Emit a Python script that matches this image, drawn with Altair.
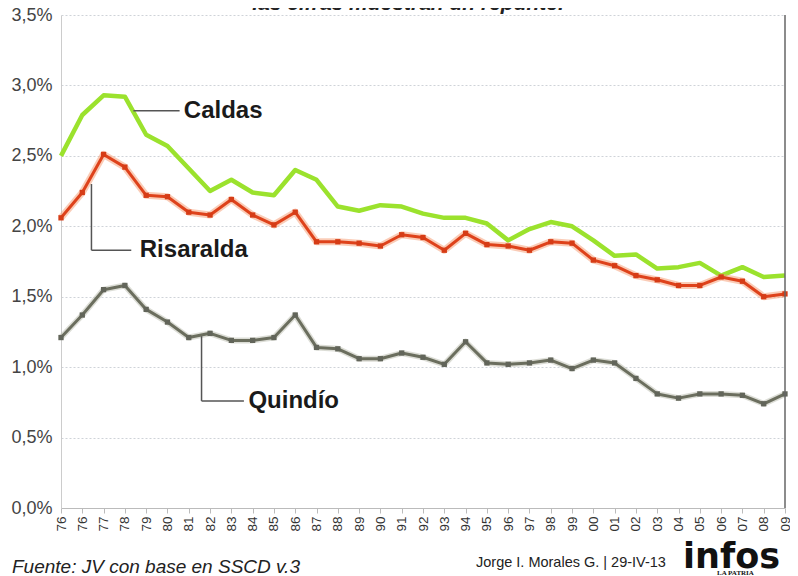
import altair as alt
import pandas as pd

# ---- data ----
years = ['76', '76', '77', '78', '79', '80', '81', '82', '83', '84', '85', '86',
         '87', '88', '89', '90', '91', '92', '93', '94', '95', '96', '97', '98',
         '99', '00', '01', '02', '03', '04', '05', '06', '07', '08', '09']

caldas = [2.50, 2.79, 2.93, 2.92, 2.65, 2.57, 2.41, 2.25, 2.33, 2.24, 2.22, 2.40,
          2.33, 2.14, 2.11, 2.15, 2.14, 2.09, 2.06, 2.06, 2.02, 1.90, 1.98, 2.03,
          2.00, 1.90, 1.79, 1.80, 1.70, 1.71, 1.74, 1.65, 1.71, 1.64, 1.65]

risaralda = [2.06, 2.24, 2.51, 2.42, 2.22, 2.21, 2.10, 2.08, 2.19, 2.08, 2.01, 2.10,
             1.89, 1.89, 1.88, 1.86, 1.94, 1.92, 1.83, 1.95, 1.87, 1.86, 1.83, 1.89,
             1.88, 1.76, 1.72, 1.65, 1.62, 1.58, 1.58, 1.64, 1.61, 1.50, 1.52]

quindio = [1.21, 1.37, 1.55, 1.58, 1.41, 1.32, 1.21, 1.24, 1.19, 1.19, 1.21, 1.37,
           1.14, 1.13, 1.06, 1.06, 1.10, 1.07, 1.02, 1.18, 1.03, 1.02, 1.03, 1.05,
           0.99, 1.05, 1.03, 0.92, 0.81, 0.78, 0.81, 0.81, 0.80, 0.74, 0.81]

y_ticks = [0, 0.5, 1.0, 1.5, 2.0, 2.5, 3.0, 3.5]

# series labels and where they sit (x in year index, y in percent)
label_names = ['Caldas', 'Risaralda', 'Quindío']
label_x = [5.77, 3.70, 8.80]
label_y = [2.82, 1.83, 0.76]

# connector segments for the labels
seg_x = [3.40, 1.43, 1.43, 6.60, 6.60]
seg_x2 = [5.57, 1.43, 3.30, 6.60, 8.59]
seg_y = [2.82, 2.30, 1.83, 1.22, 0.76]
seg_y2 = [2.82, 1.83, 1.83, 0.76, 0.76]

title_text = 'las cifras muestran un repunte.'
source_text = 'Fuente: JV con base en SSCD v.3'
credit_text = 'Jorge I. Morales G. | 29-IV-13'
logo_text = 'infos'
logo_sub = 'LA PATRIA'

# ---- tables ----
idx = list(range(len(years)))
df_c = pd.DataFrame({'i': idx, 'v': caldas})
df_r = pd.DataFrame({'i': idx, 'v': risaralda})
df_q = pd.DataFrame({'i': idx, 'v': quindio})
df_lab = pd.DataFrame({'i': label_x, 'v': label_y, 't': label_names})
df_seg = pd.DataFrame({'i': seg_x, 'i2': seg_x2, 'v': seg_y, 'v2': seg_y2})

W, H = 724, 493
label_expr = "[" + ",".join("'%s'" % y for y in years) + "][datum.value]"

xs = alt.Scale(domain=[0, len(years) - 1], nice=False, zero=False)
ys = alt.Scale(domain=[0, 3.5], nice=False)

x_axis = alt.Axis(values=idx, labelExpr=label_expr, labelAngle=270,
                  labelFontSize=13.5, labelColor='#333', labelPadding=3,
                  labelOverlap=False, labelFlush=False, labelBound=False,
                  tickSize=5, tickColor='#bbbbbb', domainColor='#bbbbbb',
                  grid=False, title=None, labelFont='Liberation Sans')
y_axis = alt.Axis(values=y_ticks,
                  labelExpr="replace(format(datum.value, '.1f'), '.', ',') + '%'",
                  labelFontSize=18, labelColor='#444', labelPadding=9,
                  ticks=False, domainColor='#cccccc', grid=True,
                  gridColor='#cfd3d8', gridDash=[2, 2], title=None,
                  labelFont='Liberation Sans')

X = alt.X('i:Q', scale=xs, axis=x_axis)
Y = alt.Y('v:Q', scale=ys, axis=y_axis)
X2 = alt.X2('i2:Q')
Y2 = alt.Y2('v2:Q')

green = alt.Chart(df_c).mark_line(color='#9be22d', strokeWidth=4.5,
                                  strokeJoin='round').encode(x=X, y=Y)

red_halo = alt.Chart(df_r).mark_line(color='#f6a27c', strokeWidth=7, opacity=0.55,
                                     strokeJoin='round').encode(x=X, y=Y)
red = alt.Chart(df_r).mark_line(color='#de421b', strokeWidth=3,
                                strokeJoin='round').encode(x=X, y=Y)
red_pts = alt.Chart(df_r).mark_point(shape='square', filled=True, size=28,
                                     color='#d63c16', opacity=1).encode(x=X, y=Y)

gray_halo = alt.Chart(df_q).mark_line(color='#b9bbae', strokeWidth=6, opacity=0.5,
                                      strokeJoin='round').encode(x=X, y=Y)
gray = alt.Chart(df_q).mark_line(color='#6b6e5e', strokeWidth=3,
                                 strokeJoin='round').encode(x=X, y=Y)
gray_pts = alt.Chart(df_q).mark_point(shape='square', filled=True, size=28,
                                      color='#62655a', opacity=1).encode(x=X, y=Y)

segs = alt.Chart(df_seg).mark_rule(color='#555555', strokeWidth=1.5).encode(
    x=X, x2=X2, y=Y, y2=Y2)

labels = alt.Chart(df_lab).mark_text(align='left', baseline='middle', fontSize=24,
                                     fontWeight='bold', color='#1a1a1a',
                                     font='Liberation Sans').encode(
    x=X, y=Y, text='t:N')

right_frame = alt.Chart(pd.DataFrame({'i': [len(years) - 1]})).mark_rule(
    color='#666666', strokeWidth=1.5).encode(x=X, y=alt.value(0), y2=alt.value(H))

def txt(s, x, y, **kw):
    return alt.Chart(pd.DataFrame({'t': [s]})).mark_text(**kw).encode(
        text='t:N', x=alt.value(x), y=alt.value(y))

title = txt(title_text, 347, -5, align='center', baseline='alphabetic', fontSize=21,
            fontWeight='bold', fontStyle='italic', color='#222', font='Liberation Sans')
source = txt(source_text, -49, 552, align='left', baseline='middle', fontSize=19,
             fontStyle='italic', color='#222', font='Liberation Sans')
credit = txt(credit_text, 415, 548, align='left', baseline='middle', fontSize=14.5,
             color='#222', font='Liberation Sans Narrow, Liberation Sans')
logo = txt(logo_text, 622, 553, align='left', baseline='alphabetic', fontSize=35,
           fontWeight='bold', color='#111', font='DejaVu Sans')
logo2 = txt(logo_sub, 656, 560, align='left', baseline='alphabetic', fontSize=7,
            fontWeight='bold', color='#111', font='Liberation Serif')

chart = alt.layer(
    green, red_halo, red, red_pts, gray_halo, gray, gray_pts,
    segs, labels, right_frame, title, source, credit, logo, logo2
).properties(
    width=W, height=H,
    autosize=alt.AutoSizeParams(type='none'),
    padding={'left': 53, 'top': 7, 'right': 5, 'bottom': 67},
    background='white'
).configure_view(stroke=None)

chart.save("out.html", embed_options={"renderer": "svg", "actions": False})
